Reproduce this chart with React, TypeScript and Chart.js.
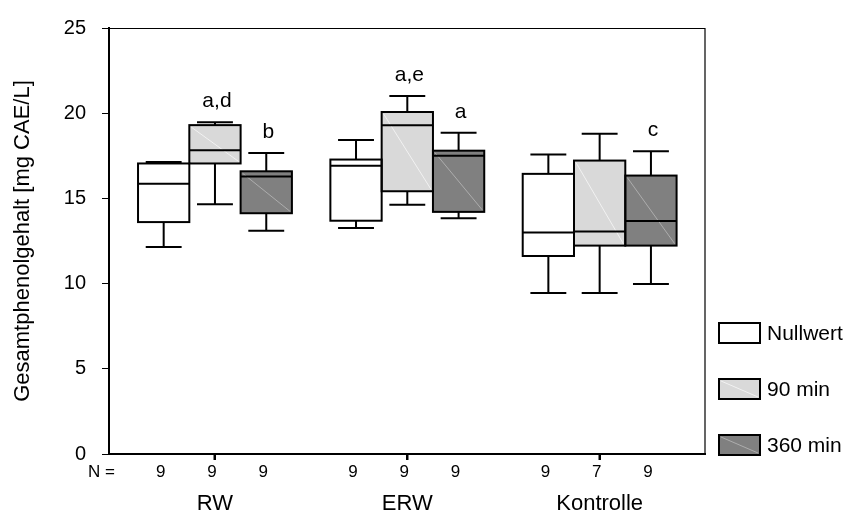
import React, { useEffect, useRef } from 'react';
import { Chart, registerables } from 'chart.js';

Chart.register(...registerables);

// ---- data ----
const categories = ['RW', 'ERW', 'Kontrolle'];
const seriesNames = ['Nullwert', '90 min', '360 min'];
// [min, Q1, median, Q3, max] per category
const nullwertStats = [
  [12.15, 13.61, 15.86, 17.05, 17.13],
  [13.27, 13.69, 16.92, 17.28, 18.43],
  [9.45, 11.62, 13.0, 16.44, 17.57],
];
const min90Stats = [
  [14.65, 17.05, 17.82, 19.3, 19.47],
  [14.63, 15.42, 19.3, 20.07, 21.01],
  [9.45, 12.23, 13.06, 17.22, 18.8],
];
const min360Stats = [
  [13.1, 14.13, 16.28, 16.59, 17.67],
  [13.84, 14.21, 17.51, 17.8, 18.85],
  [9.97, 12.23, 13.67, 16.34, 17.76],
];
// sample sizes per category (RW, ERW, Kontrolle)
const nNullwert = [9, 9, 9];
const n90 = [9, 9, 7];
const n360 = [9, 9, 9];
const lettersNullwert = ['', '', ''];
const letters90 = ['a,d', 'a,e', ''];
const letters360 = ['b', 'a', 'c'];
const yMin = 0;
const yMax = 25;
const yStep = 5;
const yTitle = 'Gesamtphenolgehalt [mg CAE/L]';
const nLabel = 'N =';

// ---- layout / style ----
const GS = 3.75; // group spacing in box-width units
const X_MIN = -2.066;
const X_MAX = 9.554;
const FONT = '"Liberation Sans", Arial, Helvetica, sans-serif';
const fills = ['#ffffff', '#d9d9d9', '#808080'];
const diagColors = [null, '#f2f2f2', '#adadad'];

const allStats = [nullwertStats, min90Stats, min360Stats];
const allN = [nNullwert, n90, n360];
const allLetters = [lettersNullwert, letters90, letters360];

const boxCenter = (g: number, k: number) => g * GS + (k - 1);

const boxPlugin = {
  id: 'boxExtras',
  afterDatasetsDraw(chart: any) {
    const { ctx, scales } = chart;
    const x = scales.x;
    const y = scales.y;
    ctx.save();
    allStats.forEach((stats, k) => {
      stats.forEach((s, g) => {
        const c = boxCenter(g, k);
        const cx = x.getPixelForValue(c);
        const l = x.getPixelForValue(c - 0.5);
        const r = x.getPixelForValue(c + 0.5);
        const capL = x.getPixelForValue(c - 0.35);
        const capR = x.getPixelForValue(c + 0.35);
        const [mn, q1, md, q3, mx] = s;
        const yq1 = y.getPixelForValue(q1);
        const yq3 = y.getPixelForValue(q3);
        const dc = diagColors[k];
        if (dc) {
          ctx.strokeStyle = dc;
          ctx.lineWidth = 1;
          ctx.beginPath();
          ctx.moveTo(l + 2, yq3 + 2);
          ctx.lineTo(r - 2, yq1 - 2);
          ctx.stroke();
        }
        ctx.strokeStyle = '#000';
        ctx.lineWidth = 2;
        ctx.strokeRect(l, yq3, r - l, yq1 - yq3);
        const ym = y.getPixelForValue(md);
        const ymn = y.getPixelForValue(mn);
        const ymx = y.getPixelForValue(mx);
        ctx.beginPath();
        ctx.moveTo(l, ym);
        ctx.lineTo(r, ym);
        ctx.moveTo(cx, yq3);
        ctx.lineTo(cx, ymx);
        ctx.moveTo(capL, ymx);
        ctx.lineTo(capR, ymx);
        ctx.moveTo(cx, yq1);
        ctx.lineTo(cx, ymn);
        ctx.moveTo(capL, ymn);
        ctx.lineTo(capR, ymn);
        ctx.stroke();
        const letter = allLetters[k][g];
        if (letter) {
          ctx.fillStyle = '#000';
          ctx.font = `21px ${FONT}`;
          ctx.textAlign = 'center';
          ctx.textBaseline = 'middle';
          ctx.fillText(letter, cx + 2, ymx - 21);
        }
      });
    });
    ctx.restore();
  },
  afterDraw(chart: any) {
    const { ctx, chartArea } = chart;
    const x = chart.scales.x;
    ctx.save();
    // frame top / right
    ctx.strokeStyle = '#000';
    ctx.lineWidth = 1.2;
    ctx.beginPath();
    ctx.moveTo(chartArea.left, chartArea.top + 0.5);
    ctx.lineTo(chartArea.right, chartArea.top + 0.5);
    ctx.lineTo(chartArea.right, chartArea.bottom);
    ctx.stroke();
    // category tick marks on the x axis
    ctx.lineWidth = 2;
    ctx.beginPath();
    categories.forEach((_, g) => {
      const px = Math.round(x.getPixelForValue(g * GS));
      ctx.moveTo(px, chartArea.bottom);
      ctx.lineTo(px, chartArea.bottom + 6);
    });
    ctx.stroke();
    // N row
    ctx.fillStyle = '#000';
    ctx.font = `17px ${FONT}`;
    ctx.textBaseline = 'middle';
    ctx.textAlign = 'left';
    const nY = chartArea.bottom + 18;
    ctx.fillText(nLabel, chartArea.left - 21, nY);
    ctx.textAlign = 'center';
    allN.forEach((arr, k) => {
      arr.forEach((n, g) => {
        ctx.fillText(String(n), x.getPixelForValue(boxCenter(g, k)) - 3, nY);
      });
    });
    // legend
    ctx.font = `21px ${FONT}`;
    ctx.textAlign = 'left';
    seriesNames.forEach((name, k) => {
      const cy = chartArea.bottom - 9 - (2 - k) * 56;
      const bx = chartArea.right + 14;
      const bw = 41;
      const bh = 20;
      const by = cy - bh / 2;
      ctx.fillStyle = fills[k];
      ctx.fillRect(bx, by, bw, bh);
      const dc = diagColors[k];
      if (dc) {
        ctx.strokeStyle = dc;
        ctx.lineWidth = 1;
        ctx.beginPath();
        ctx.moveTo(bx + 2, by + 2);
        ctx.lineTo(bx + bw - 2, by + bh - 2);
        ctx.stroke();
      }
      ctx.strokeStyle = '#000';
      ctx.lineWidth = 2;
      ctx.strokeRect(bx, by, bw, bh);
      ctx.fillStyle = '#000';
      ctx.fillText(name, chartArea.right + 62, cy + 1);
    });
    ctx.restore();
  },
};

export default function App() {
  const canvasRef = useRef<HTMLCanvasElement | null>(null);

  useEffect(() => {
    const canvas = canvasRef.current;
    if (!canvas) return;
    const datasets = allStats.map((stats, k) => ({
      label: seriesNames[k],
      data: stats.map((s, g) => ({ x: boxCenter(g, k), y: [s[1], s[3]] })),
      backgroundColor: fills[k],
      borderWidth: 0,
      grouped: false,
      barPercentage: 1,
      categoryPercentage: 1,
    }));
    const chart = new Chart(canvas, {
      type: 'bar',
      data: { datasets } as any,
      plugins: [boxPlugin],
      options: {
        animation: false,
        responsive: false,
        devicePixelRatio: 1,
        events: [],
        layout: { padding: { left: 0, top: 20, right: 144, bottom: 0 } },
        plugins: {
          legend: { display: false },
          tooltip: { enabled: false },
        },
        scales: {
          x: {
            type: 'linear',
            min: X_MIN,
            max: X_MAX,
            offset: false,
            border: { display: true, width: 2, color: '#000' },
            grid: { display: true, offset: false, drawOnChartArea: false, drawTicks: true, tickLength: 6, tickColor: '#000', tickWidth: 2, color: '#000' },
            afterBuildTicks: (axis: any) => {
              axis.ticks = categories.map((_, i) => ({ value: i * GS }));
            },
            ticks: {
              autoSkip: false,
              maxRotation: 0,
              padding: 31,
              color: '#000',
              font: { family: FONT, size: 22 },
              callback: (v: any) => categories[Math.round(Number(v) / GS)] ?? '',
            },
            afterFit: (axis: any) => {
              axis.height = 61;
            },
          },
          y: {
            type: 'linear',
            min: yMin,
            max: yMax,
            border: { display: true, width: 2, color: '#000' },
            grid: { drawOnChartArea: false, drawTicks: true, tickLength: 7, tickColor: '#000', tickWidth: 1 },
            ticks: {
              stepSize: yStep,
              padding: 16,
              color: '#000',
              font: { family: FONT, size: 20 },
            },
            title: {
              display: true,
              text: yTitle,
              color: '#000',
              font: { family: FONT, size: 22 },
              padding: { top: 10, bottom: 0 },
            },
            afterFit: (axis: any) => {
              axis.width = 109;
            },
          },
        },
      } as any,
    });
    return () => chart.destroy();
  }, []);

  return (
    <div style={{ position: 'absolute', left: 0, top: 0, width: 849, height: 515, background: '#fff' }}>
      <canvas ref={canvasRef} width={849} height={515} style={{ width: 849, height: 515, display: 'block' }} />
    </div>
  );
}
